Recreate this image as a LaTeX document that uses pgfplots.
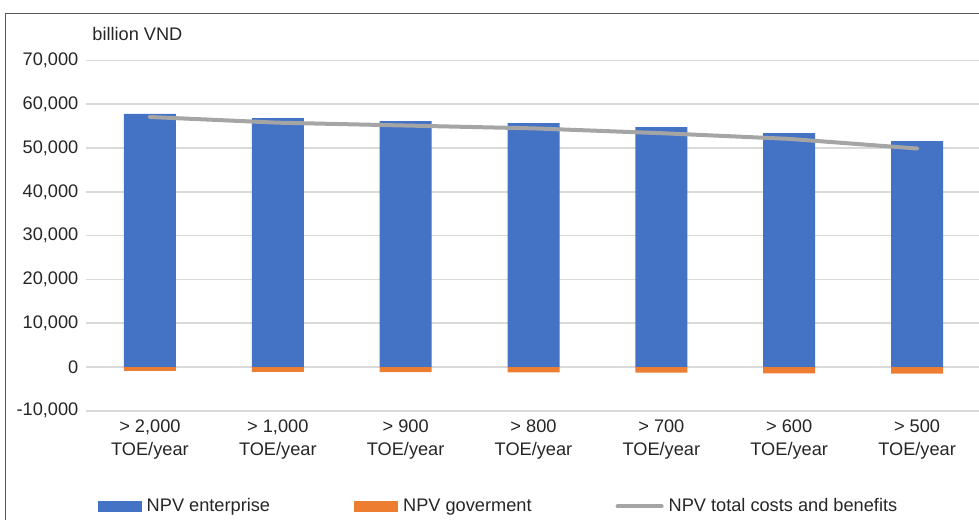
\documentclass[border=0pt]{standalone}
\usepackage{fontspec}
\setmainfont{Liberation Sans}
\usepackage{pgfplots}
\pgfplotsset{compat=1.18}
\definecolor{cblue}{HTML}{4472C4}
\definecolor{corange}{HTML}{ED7D31}
\definecolor{cgray}{HTML}{A5A5A5}
\definecolor{cgrid}{HTML}{D9D9D9}
\definecolor{ctext}{HTML}{262626}
\newcommand{\cf}{\fontsize{9.1}{11.5}\selectfont}
\begin{document}
\begin{tikzpicture}
\path[use as bounding box] (0pt,0pt) rectangle (489.5pt,-259.5pt);
\draw[line width=0.6pt, black!65] (2.7pt,-262pt) -- (2.7pt,-6.7pt) -- (492pt,-6.7pt);
\node[anchor=base west, inner sep=0pt, text=ctext, font=\cf] at (46pt,-20.5pt) {billion VND};
\begin{axis}[
  at={(43pt,-205.4pt)}, anchor=south west,
  scale only axis, width=447.5pt, height=175.15pt,
  xmin=-0.5, xmax=6.5, ymin=-10000, ymax=70000,
  ytick={-10000,0,10000,20000,30000,40000,50000,60000,70000},
  xtick={0,1,2,3,4,5,6},
  xticklabels={{> 2,000\\TOE/year},{> 1,000\\TOE/year},{> 900\\TOE/year},{> 800\\TOE/year},{> 700\\TOE/year},{> 600\\TOE/year},{> 500\\TOE/year}},
  /pgf/number format/.cd, 1000 sep={,}, assume math mode=true, /pgfplots/.cd,
  scaled y ticks=false,
  ymajorgrids, grid style={draw=cgrid, line width=0.8pt},
  axis line style={draw=none},
  major tick length=0pt,
  tick label style={font=\cf, text=ctext},
  xticklabel style={align=center, yshift=-1pt},
  yticklabel style={xshift=-0.3pt},
  clip=false,
  legend columns=3,
  legend style={at={(0.462,-0.273)}, anchor=center, draw=none, fill=none, font=\cf, text=ctext,
    /tikz/every odd column/.append style={column sep=0.5pt},
    /tikz/every even column/.append style={column sep=40pt}},
]
\addplot[ybar, bar width=26pt, bar shift=0pt, fill=cblue, draw=none,
  legend image code/.code={\fill[cblue] (0pt,-2.75pt) rectangle (22pt,2.75pt);}]
  coordinates {(0,57800) (1,56850) (2,56150) (3,55700) (4,54800) (5,53400) (6,51600)};
\addlegendentry{NPV enterprise}
\addplot[ybar, bar width=26pt, bar shift=0pt, fill=corange, draw=none,
  legend image code/.code={\fill[corange] (0pt,-2.75pt) rectangle (22pt,2.75pt);}]
  coordinates {(0,-900) (1,-1100) (2,-1150) (3,-1250) (4,-1300) (5,-1450) (6,-1500)};
\addlegendentry{NPV goverment}
\addplot[cgray, line width=2pt, line cap=round, line join=round, mark=none,
  legend image code/.code={\draw[cgray, line width=2pt, line cap=round] (0pt,0pt) -- (22pt,0pt);}]
  coordinates {(0,57100) (1,55800) (2,55150) (3,54500) (4,53400) (5,52100) (6,49900)};
\addlegendentry{NPV total costs and benefits}
\end{axis}
\end{tikzpicture}
\end{document}
